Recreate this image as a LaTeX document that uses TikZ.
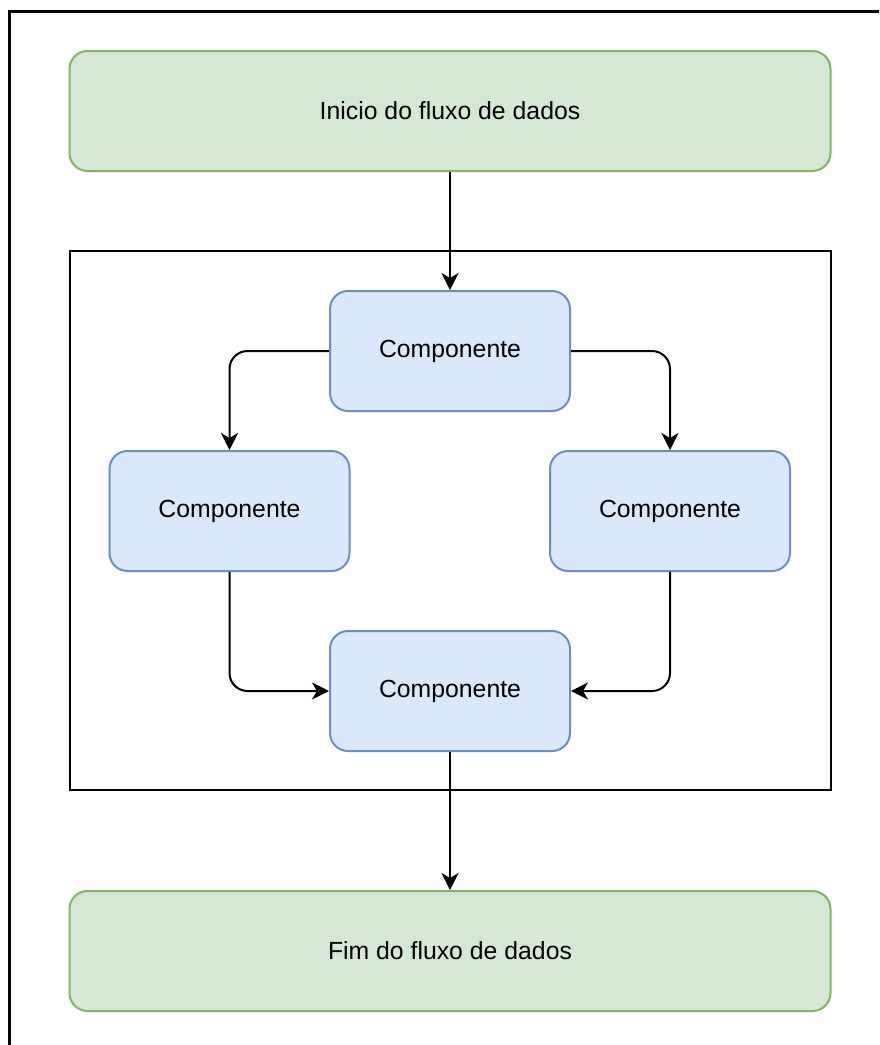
\documentclass[tikz,border=0pt]{standalone}
\usepackage{fontspec}
\setmainfont{Liberation Sans}
\usetikzlibrary{arrows.meta}
\definecolor{greenfill}{HTML}{D5E8D4}
\definecolor{greenline}{HTML}{82B366}
\definecolor{bluefill}{HTML}{DAE8FC}
\definecolor{blueline}{HTML}{6C8EBF}
\begin{document}
\begin{tikzpicture}[x=1pt,y=-1pt,
  every node/.style={font=\fontsize{24.8}{30}\selectfont},
  greenbox/.style={draw=greenline,fill=greenfill,line width=2pt,rounded corners=18pt,
    minimum width=761pt,minimum height=120pt,inner sep=0pt},
  bluebox/.style={draw=blueline,fill=bluefill,line width=2pt,rounded corners=18pt,
    minimum width=240pt,minimum height=120pt,inner sep=0pt},
  flow/.style={draw=black,line width=2pt,rounded corners=18pt,
    -{Stealth[length=17pt,width=17pt,inset=5pt]}}]
  \useasboundingbox (0,0) rectangle (879,1045);
  % outer frame, running off the right and bottom edges
  \draw[line width=2.8pt] (879,11.3) -- (9.5,11.3) -- (9.5,1045);
  % frame round the components
  \node[draw,line width=2pt,minimum width=761pt,minimum height=539pt,inner sep=0pt] (frame) at (450,520.5) {};
  % start and end of the data flow
  \node[greenbox] (start) at (450,111) {Inicio do fluxo de dados};
  \node[greenbox] (finish) at (450,951) {Fim do fluxo de dados};
  % components
  \node[bluebox] (top) at (450,351) {Componente};
  \node[bluebox] (left) at (229.5,511) {Componente};
  \node[bluebox] (right) at (670,511) {Componente};
  \node[bluebox] (bottom) at (450,691) {Componente};
  % connectors
  \draw[flow] (start.south) -- (top.north);
  \draw[flow] (top.west) -| (left.north);
  \draw[flow] (top.east) -| (right.north);
  \draw[flow] (left.south) |- (bottom.west);
  \draw[flow] (right.south) |- (bottom.east);
  \draw[flow] (bottom.south) -- (finish.north);
\end{tikzpicture}
\end{document}
